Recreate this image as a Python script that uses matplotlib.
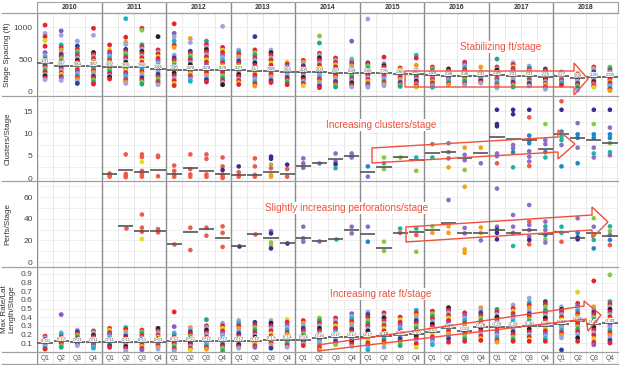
import numpy as np
import matplotlib.pyplot as plt
import matplotlib.patheffects as pe
from matplotlib.patches import Polygon
from matplotlib.lines import Line2D
from matplotlib.transforms import Affine2D

plt.rcParams['font.family'] = ['Liberation Sans', 'DejaVu Sans']

W, H = 620, 365
years = ['2010', '2011', '2012', '2013', '2014', '2015', '2016', '2017', '2018']
quarters = ['Q1', 'Q2', 'Q3', 'Q4']

# stage spacing (ft), one list per quarter
spacing_pts = [
    [1030, 900, 850, 790, 700, 600, 555, 522, 488, 462, 431, 402, 378, 352, 318, 292, 258, 236, 205, 178],
    [940, 870, 722, 680, 642, 598, 571, 538, 507, 468, 442, 409, 383, 348, 322, 287, 262, 228, 201, 165],
    [780, 702, 652, 618, 587, 548, 517, 479, 452, 418, 393, 358, 333, 301, 268, 243, 208, 182, 148, 118],
    [980, 870, 602, 571, 538, 507, 468, 442, 409, 378, 352, 318, 292, 258, 231, 198, 172, 138, 108],
    [720, 642, 608, 582, 543, 512, 478, 452, 418, 392, 358, 332, 298, 272, 238, 216, 188],
    [1130, 840, 762, 728, 652, 618, 587, 548, 517, 478, 447, 408, 382, 348, 322, 288, 262, 228, 202, 168, 142, 118],
    [980, 950, 722, 688, 657, 618, 587, 548, 517, 478, 447, 412, 373, 342, 303, 272, 238, 207, 168, 142, 108],
    [850, 642, 608, 577, 538, 507, 468, 437, 398, 367, 328, 297, 262, 223, 192, 158, 132, 98],
    [1050, 902, 848, 782, 718, 682, 562, 518, 482, 438, 402, 358, 322, 278, 242, 198, 162, 118, 85],
    [820, 758, 622, 583, 552, 513, 482, 443, 412, 373, 342, 303, 272, 238, 212, 178, 152],
    [780, 728, 682, 648, 612, 568, 532, 488, 452, 408, 372, 328, 292, 248, 217, 178, 142],
    [1010, 682, 638, 602, 558, 522, 478, 442, 398, 362, 318, 282, 238, 202, 163, 132, 98],
    [640, 608, 577, 538, 507, 468, 437, 398, 367, 328, 297, 258, 227, 188, 162, 128, 102],
    [850, 642, 598, 562, 518, 482, 438, 402, 358, 322, 283, 252, 213, 182, 143, 112, 78],
    [640, 598, 562, 518, 482, 438, 402, 363, 332, 293, 262, 223, 197, 163, 132],
    [450, 422, 388, 362, 328, 302, 268, 242, 208, 182, 153, 132, 98],
    [480, 452, 418, 392, 358, 332, 298, 272, 238, 212, 178, 152, 118, 82],
    [860, 750, 590, 562, 518, 482, 438, 402, 358, 322, 283, 252, 213, 182, 143, 112, 78, 52],
    [515, 478, 447, 408, 377, 338, 307, 268, 242, 208, 182, 148, 122, 88, 62],
    [780, 502, 463, 432, 393, 362, 323, 292, 253, 222, 188, 162, 128, 97, 62],
    [1125, 440, 418, 392, 358, 332, 298, 272, 238, 212, 178, 152, 118, 92, 58],
    [530, 432, 398, 372, 338, 312, 278, 252, 218, 192, 158, 132, 103, 82],
    [360, 333, 312, 283, 262, 233, 212, 183, 162, 133, 112, 88, 72],
    [560, 515, 405, 332, 303, 282, 253, 232, 203, 182, 153, 132, 103, 82, 58],
    [375, 348, 327, 298, 277, 248, 227, 198, 177, 148, 127, 98, 82, 58],
    [345, 318, 297, 268, 247, 218, 197, 168, 147, 118, 97],
    [450, 418, 392, 358, 332, 298, 272, 238, 212, 178, 152, 118, 97],
    [375, 302, 278, 262, 238, 222, 198, 182, 158, 142, 123],
    [500, 375, 348, 327, 298, 277, 248, 227, 198, 177, 148, 127, 98, 77, 48],
    [440, 412, 378, 352, 318, 292, 258, 232, 198, 172, 138, 117, 88, 62],
    [390, 363, 342, 313, 292, 263, 242, 213, 192, 163, 142, 113, 97, 78],
    [345, 318, 297, 268, 247, 218, 197, 168, 147, 118, 97, 68, 52, 28],
    [300, 282, 258, 242, 218, 202, 178, 162, 138, 122, 93],
    [280, 262, 238, 222, 198, 182, 158, 142, 118, 102, 78, 57, 28, 12],
    [375, 348, 327, 298, 277, 248, 227, 198, 177, 148, 127, 98, 82, 58],
    [375, 352, 318, 292, 258, 232, 198, 177, 148, 127, 98, 77, 48, 27, 6],
]
spacing_mean = [431, 397, 384, 387, 382, 369, 368, 344, 336, 329, 329, 325,
                327, 317, 308, 303, 300, 303, 287, 284, 285, 276, 268, 267,
                249, 236, 236, 231, 249, 231, 231, 226, 227, 209, 220, 218]

# clusters per stage; ops = operator code of each point
clusters_pts = [
    [], [], [], [],
    [1.0, 0.6, 0.3], [5.3, 0.9, 0.5, 0.2], [5.3, 4.7, 3.6, 1.6, 0.8, 0.3], [5.0, 4.7, 0.4],
    [2.8, 1.6, 0.8, 0.3], [5.3, 2.0, 0.8, 0.3], [5.3, 4.3, 0.8, 0.3], [4.6, 2.6, 1.8, 0.8, 0.3, 0.0],
    [2.6, 1.3, 0.7, 0.3], [4.4, 2.6, 0.7, 0.3], [4.8, 4.3, 3.0, 2.2, 0.7, 0.3], [3.0, 2.0, 0.3],
    [4.4, 3.3, 2.3], [3.4], [5.5, 3.7, 3.1, 2.2], [5.5, 4.9, 4.6],
    [2.6, 0.3], [4.6, 3.3, 2.0], [4.8], [4.6, 1.6],
    [7.6, 4.6], [7.8, 5.8, 4.4, 2.4], [6.8, 5.2, 4.0, 1.8], [6.8, 3.3],
    [15.3, 12.1, 11.6, 5.5, 4.9, 3.3], [15.3, 14.3, 7.4, 6.7, 5.8, 2.4],
    [15.3, 13.6, 9.5, 8.5, 7.8, 6.0, 4.8, 3.7, 2.7], [12.1, 8.5, 7.6, 5.8, 4.6],
    [17.2, 15.3, 10.4, 9.3, 8.5, 7.4, 2.6], [12.3, 9.8, 9.0, 6.8, 3.3],
    [15.3, 12.1, 9.8, 9.0, 6.8, 5.5, 4.6], [15.3, 11.3, 9.8, 9.0, 7.8, 5.8, 5.1],
]
clusters_ops = [
    '', '', '', '',
    'rrr', 'rrrr', 'rryrrr', 'rrr',
    'rrrr', 'rrrr', 'rrrr', 'rrdrrr',
    'drrr', 'rrrr', 'ddgroo', 'drr',
    'ppp', 'p', 'ppdt', 'ppp',
    'bp', 'gtg', 'g', 'tg',
    'xt', 'xxpo', 'oppg', 'op',
    'dddppr', 'ddppbt', 'drbbbpppr', 'gppbt',
    'rdbttpb', 'pbbpb', 'dgbbptp', 'dpbbgtp',
]
clusters_mean = [np.nan, np.nan, np.nan, np.nan, 0.8, 1.9, 1.4, 1.9,
                 0.8, 2.3, 1.5, 0.9, 0.7, 0.7, 1.3, 0.9,
                 2.7, 3.4, 4.3, 5.0, 1.3, 2.5, 4.7, 4.0,
                 5.6, 5.8, 4.5, 5.6, 9.2, 8.8, 8.5, 6.5,
                 9.9, 9.0, 8.5, 7.9]

# perforations per stage
perfs_pts = [
    [], [], [], [],
    [], [31.8], [44, 31.8, 28, 21.3], [30.5, 27.5],
    [16.4], [31.8, 11.1], [31.8, 24.4], [33, 27, 14],
    [15], [26], [28.6, 26.5, 18.1, 15.7, 12.6], [17.3],
    [32.7, 21.9, 18.8], [19.8], [21], [32.7, 26.5],
    [32.7, 18.8], [18.8, 10.4], [31, 27], [31, 25, 9.5],
    [33, 27], [57.4, 33, 27], [69.7, 31.6, 26.5, 11.7, 8.6], [32, 27, 20],
    [68, 32.7, 30, 27, 21], [43.5, 32.7, 27, 14.8],
    [52.8, 37.4, 34.3, 29.6, 23.5, 20.4, 16.4], [37.4, 33, 29.6, 25, 21, 18],
    [32.7, 27, 18.8], [40.5, 27, 22.8, 21], [40.5, 32.7, 25, 20.4, 12.6], [33, 28.6, 25, 20.4, 15.7],
]
perfs_ops = [
    '', '', '', '',
    '', 'r', 'rrry', 'rr',
    'r', 'rr', 'rr', 'rrr',
    'd', 'r', 'pdggd', 'd',
    'ppp', 'p', 't', 'pp',
    'pb', 'gg', 'tr', 'trg',
    'go', 'poo', 'oppoo', 'oop',
    'ppddd', 'pppt', 'prpppdr', 'ptpbgp',
    'ttr', 'pbdd', 'gpgtb', 'tgpbr',
]
perfs_mean = [np.nan, np.nan, np.nan, np.nan, np.nan, 33.5, 29, 29,
              16.4, 27.5, 30.3, 22, 15, 26, 21.9, 17.3,
              21.9, 19.8, 21, 29.6, 26, 13.3, 27, 28,
              30, 36.4, 26.5, 26.5, 30, 26.5, 29.6, 26,
              28, 21.9, 26.5, 24]

# max rate / lateral length / stage
rate_pts = [
    [0.18, 0.16, 0.14, 0.12, 0.10, 0.08, 0.06, 0.04, 0.03],
    [0.43, 0.22, 0.20, 0.17, 0.15, 0.13, 0.11, 0.09, 0.07, 0.05],
    [0.25, 0.23, 0.21, 0.19, 0.17, 0.15, 0.13, 0.11, 0.09, 0.07],
    [0.24, 0.22, 0.19, 0.17, 0.15, 0.13, 0.11, 0.09, 0.07, 0.05, 0.04],
    [0.27, 0.25, 0.22, 0.20, 0.17, 0.15, 0.13, 0.11, 0.09, 0.07, 0.05],
    [0.28, 0.26, 0.23, 0.21, 0.18, 0.16, 0.14, 0.12, 0.10, 0.08, 0.06, 0.04, 0.01],
    [0.25, 0.23, 0.21, 0.18, 0.16, 0.14, 0.12, 0.10, 0.08, 0.06, 0.04, 0.02],
    [0.27, 0.24, 0.22, 0.19, 0.17, 0.15, 0.13, 0.11, 0.09, 0.07, 0.05, 0.03],
    [0.46, 0.29, 0.22, 0.20, 0.17, 0.15, 0.13, 0.11, 0.09, 0.07, 0.05, 0.03, 0.01],
    [0.28, 0.26, 0.23, 0.21, 0.18, 0.16, 0.14, 0.12, 0.10, 0.08, 0.06, 0.04, 0.02],
    [0.37, 0.30, 0.28, 0.25, 0.22, 0.20, 0.17, 0.15, 0.13, 0.11, 0.09, 0.07, 0.05, 0.03],
    [0.33, 0.30, 0.27, 0.24, 0.21, 0.19, 0.16, 0.14, 0.12, 0.10, 0.08, 0.06, 0.04, 0.01],
    [0.36, 0.33, 0.30, 0.27, 0.24, 0.21, 0.18, 0.16, 0.14, 0.12, 0.10, 0.08, 0.06, 0.04],
    [0.34, 0.31, 0.28, 0.25, 0.22, 0.19, 0.17, 0.15, 0.13, 0.11, 0.09, 0.07, 0.05],
    [0.36, 0.33, 0.30, 0.27, 0.24, 0.21, 0.18, 0.16, 0.14, 0.12, 0.10, 0.08, 0.06, 0.04],
    [0.37, 0.34, 0.31, 0.28, 0.25, 0.22, 0.20, 0.17, 0.15, 0.13, 0.11, 0.09, 0.07, 0.05],
    [0.36, 0.33, 0.30, 0.27, 0.24, 0.21, 0.19, 0.17, 0.15, 0.13, 0.11, 0.09, 0.07],
    [0.39, 0.36, 0.33, 0.30, 0.27, 0.24, 0.21, 0.19, 0.17, 0.15, 0.13, 0.11, 0.08, 0.05, 0.02],
    [0.39, 0.36, 0.33, 0.30, 0.27, 0.24, 0.22, 0.20, 0.18, 0.16, 0.14, 0.12, 0.10, 0.08],
    [0.44, 0.41, 0.38, 0.35, 0.32, 0.29, 0.26, 0.23, 0.21, 0.19, 0.16, 0.14, 0.12, 0.09, 0.06],
    [0.46, 0.43, 0.40, 0.36, 0.33, 0.30, 0.27, 0.24, 0.21, 0.19, 0.16, 0.13, 0.10, 0.07, 0.04, 0.02],
    [0.45, 0.42, 0.39, 0.36, 0.33, 0.30, 0.27, 0.24, 0.21, 0.18, 0.15, 0.12, 0.09, 0.05],
    [0.40, 0.37, 0.34, 0.31, 0.28, 0.26, 0.23, 0.20, 0.18, 0.15, 0.12, 0.10, 0.07],
    [0.48, 0.45, 0.42, 0.39, 0.36, 0.33, 0.30, 0.27, 0.24, 0.21, 0.18, 0.15, 0.12, 0.09, 0.05],
    [0.47, 0.44, 0.41, 0.38, 0.35, 0.32, 0.29, 0.26, 0.23, 0.20, 0.17, 0.14, 0.11, 0.08],
    [0.51, 0.48, 0.45, 0.42, 0.39, 0.36, 0.33, 0.30, 0.27, 0.24, 0.21, 0.18, 0.15, 0.11],
    [0.45, 0.42, 0.39, 0.36, 0.33, 0.30, 0.27, 0.24, 0.21, 0.18, 0.15, 0.12],
    [0.51, 0.48, 0.45, 0.42, 0.39, 0.36, 0.33, 0.30, 0.27, 0.24, 0.21, 0.18, 0.15, 0.13],
    [0.49, 0.46, 0.43, 0.40, 0.37, 0.34, 0.31, 0.28, 0.25, 0.22, 0.19, 0.16, 0.13, 0.11],
    [0.54, 0.50, 0.47, 0.44, 0.41, 0.38, 0.35, 0.32, 0.29, 0.26, 0.23, 0.20, 0.17, 0.14, 0.12],
    [0.62, 0.57, 0.54, 0.51, 0.47, 0.44, 0.41, 0.38, 0.35, 0.32, 0.29, 0.26, 0.23, 0.20, 0.17, 0.14, 0.12],
    [0.58, 0.55, 0.52, 0.48, 0.45, 0.42, 0.39, 0.36, 0.33, 0.30, 0.27, 0.24, 0.21, 0.18, 0.15, 0.12],
    [0.52, 0.49, 0.46, 0.43, 0.40, 0.37, 0.34, 0.31, 0.28, 0.25, 0.22, 0.19, 0.16, 0.02],
    [0.69, 0.56, 0.53, 0.50, 0.47, 0.44, 0.41, 0.38, 0.35, 0.32, 0.29, 0.26, 0.23, 0.20, 0.16, 0.12],
    [0.82, 0.52, 0.49, 0.46, 0.43, 0.40, 0.37, 0.34, 0.31, 0.28, 0.25, 0.22, 0.19, 0.15, 0.11, 0.08],
    [0.89, 0.58, 0.55, 0.52, 0.49, 0.46, 0.43, 0.40, 0.37, 0.34, 0.31, 0.28, 0.25, 0.22, 0.19, 0.16, 0.13, 0.10],
]
rate_mean = [0.10, 0.12, 0.11, 0.11, 0.11, 0.11, 0.11, 0.11,
             0.12, 0.12, 0.12, 0.12, 0.12, 0.12, 0.13, 0.14,
             0.14, 0.16, 0.17, 0.17, 0.17, 0.18, 0.19, 0.20,
             0.23, 0.27, 0.24, 0.28, 0.29, 0.29, 0.30, 0.30,
             0.32, 0.35, 0.32, 0.33]

dense_colors = ['#e8242b', '#9aa6e0', '#e8242b', '#d9d41c', '#e8242b', '#8a5cc2',
                '#9aa6e0', '#19b4c9', '#e8242b', '#f39a1e', '#9aa6e0', '#2c3e9e',
                '#e8242b', '#8cc63f', '#1fa88a', '#e8242b', '#9aa6e0', '#222222']
op_colors = {'r': '#ef5b4a', 'p': '#8e6cc7', 'd': '#3b2a90', 'b': '#1f86c8',
             't': '#22b3a3', 'g': '#8dc63f', 'o': '#f5a01a', 'y': '#f2d81a',
             'x': '#888888'}

fig = plt.figure(figsize=(W / 100, H / 100), dpi=100)
px = Affine2D().scale(1 / W, -1 / H).translate(0, 1) + fig.transFigure
X0, X1 = 37, 618


def add_ax(top, bottom):
    return fig.add_axes([X0 / W, 1 - bottom / H, (X1 - X0) / W, (bottom - top) / H])


def frame(ax):
    for s in ax.spines.values():
        s.set_visible(False)
    ax.set_xticks([])
    ax.set_xlim(0, 36)
    for i in range(37):
        if i % 4 == 0:
            ax.axvline(i, color='#8c8c8c', lw=1.0, zorder=1)
        else:
            ax.axvline(i, color='#e6e6e6', lw=0.6, zorder=1)


panels = [
    (13, 95.5, (-70, 1219), [0, 500, 1000], [250, 750], 'Stage Spacing (ft)'),
    (95.5, 181, (-0.67, 18.5), [0, 5, 10, 15], [2.5, 7.5, 12.5, 17.5], 'Clusters/Stage'),
    (181, 267, (-4.6, 75), [0, 20, 40, 60], [10, 30, 50, 70], 'Perfs/Stage'),
    (267, 352, (-0.004, 0.981), [0.1, 0.2, 0.3, 0.4, 0.5, 0.6, 0.7, 0.8, 0.9], [], 'Max Rate/Lat\nLength/Stage'),
]
axes = []
for top, bottom, ylim, ticks, minor, label in panels:
    ax = add_ax(top, bottom)
    frame(ax)
    ax.set_ylim(*ylim)
    ax.set_yticks(ticks)
    ax.set_yticks(minor, minor=True)
    ax.tick_params(axis='y', which='both', length=0, labelsize=6, labelcolor='#444444', pad=3)
    ax.grid(axis='y', which='both', color='#ececec', lw=0.6)
    ax.set_axisbelow(True)
    fig.text(8, (top + bottom) / 2, label, transform=px, rotation=90, ha='center', va='center',
             fontsize=5.8, color='#333333', linespacing=1.1)
    axes.append(ax)
ax1, ax2, ax3, ax4 = axes
ax4.set_yticklabels([f'{t:.1f}' for t in panels[3][3]])

halo = [pe.withStroke(linewidth=1.2, foreground='white')]

# dense columns
for ax, pts, means, fmt in [(ax1, spacing_pts, spacing_mean, '{:.0f}'),
                            (ax4, rate_pts, rate_mean, '{:.2f}')]:
    for i, vals in enumerate(pts):
        cols = [dense_colors[(i * 5 + k) % len(dense_colors)] for k in range(len(vals))]
        ax.scatter(np.full(len(vals), i + 0.5), vals, s=12, c=cols, lw=0, zorder=2)
        ax.hlines(means[i], i + 0.03, i + 0.97, color='#555555', lw=1.2, zorder=3)
        ax.text(i + 0.5, means[i], fmt.format(means[i]), ha='center', va='bottom',
                fontsize=3.3, color='#555555', path_effects=halo, zorder=4)

# sparse columns
for ax, pts, ops, means in [(ax2, clusters_pts, clusters_ops, clusters_mean),
                            (ax3, perfs_pts, perfs_ops, perfs_mean)]:
    for i, vals in enumerate(pts):
        if vals:
            ax.scatter(np.full(len(vals), i + 0.5), vals, s=11,
                       c=[op_colors[o] for o in ops[i]], lw=0, zorder=2)
        if not np.isnan(means[i]):
            ax.hlines(means[i], i + 0.03, i + 0.97, color='#555555', lw=1.2, zorder=3)

# year header
axh = add_ax(2, 13)
axh.set_xlim(0, 9)
axh.set_ylim(0, 1)
axh.set_xticks([])
axh.set_yticks([])
for s in axh.spines.values():
    s.set_color('#a0a0a0')
    s.set_linewidth(0.8)
for i, y in enumerate(years):
    axh.text(i + 0.5, 0.5, y, ha='center', va='center', fontsize=5, fontweight='bold', color='#333333')
    if i:
        axh.axvline(i, color='#8c8c8c', lw=1.0)

# quarter labels
axq = add_ax(352, 364)
frame(axq)
axq.set_ylim(0, 1)
axq.set_yticks([])
for i in range(36):
    axq.text(i + 0.5, 0.5, quarters[i % 4], ha='center', va='center', fontsize=4.8, color='#555555')

for y in [13, 95.5, 181, 267, 352, 364]:
    fig.add_artist(Line2D([2, X1], [y, y], transform=px, color='#a0a0a0', lw=0.9))

# annotation arrows
red = '#f0503c'
arrows = [
    [(405, 71), (574, 71), (574, 63), (588, 79), (574, 95), (574, 87), (405, 87)],
    [(372, 148), (558, 137), (558, 130), (575, 144), (558, 159), (558, 152), (372, 163)],
    [(406, 227), (592, 215), (592, 207), (608, 222), (592, 238), (592, 230), (406, 242)],
    [(318, 345), (584, 306), (584, 301), (601, 315), (588, 331), (586, 319), (318, 351)],
]
for pts in arrows:
    fig.add_artist(Polygon(pts, closed=True, fill=False, edgecolor=red, lw=1.0,
                           transform=px, zorder=10))

notes = [(460, 47, 'Stabilizing ft/stage'),
         (326, 125, 'Increasing clusters/stage'),
         (265, 208, 'Slightly increasing perforations/stage'),
         (330, 294, 'Increasing rate ft/stage')]
for x, y, s in notes:
    fig.text(x, y, s, transform=px, ha='left', va='center', fontsize=7.2, color=red,
             family=['Liberation Sans Narrow', 'Liberation Sans'], zorder=11,
             bbox=dict(facecolor='white', edgecolor='none', pad=1.0))

fig.savefig('out.png', dpi=100)
